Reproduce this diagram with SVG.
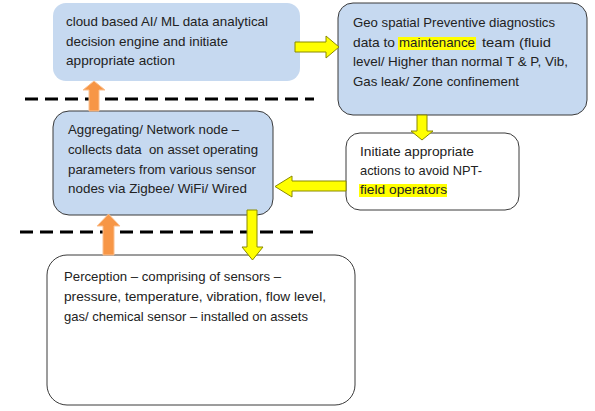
<svg xmlns="http://www.w3.org/2000/svg" width="595" height="411" viewBox="0 0 595 411">
<style>
text{font-family:"Liberation Sans",Arial,sans-serif;font-size:13px;fill:#222}
.blue{fill:#c6d9f0}
.bord{stroke:#3a3a3a;stroke-width:1}
.white{fill:#fff}
.dash{stroke:#000;stroke-width:3;stroke-dasharray:13 7;fill:none}
.ya{fill:#ffff00;stroke:#8a8a00;stroke-width:1}
.oa{fill:#f79646;stroke:#fbc08f;stroke-width:1}
.hl{fill:#ffff00}
</style>
<rect width="595" height="411" fill="#fff"/>
<g id="dividers">
<line class="dash" x1="25" y1="99" x2="314" y2="99"/>
<line class="dash" x1="20" y1="232" x2="313" y2="232"/>
</g>
<g id="cloud">
<rect class="blue" x="53" y="3" width="247" height="78" rx="13"/>
<text x="66" y="26" textLength="202" lengthAdjust="spacingAndGlyphs">cloud based AI/ ML data analytical</text>
<text x="66" y="46" textLength="162" lengthAdjust="spacingAndGlyphs">decision engine and initiate</text>
<text x="66" y="65" textLength="109" lengthAdjust="spacingAndGlyphs">appropriate action</text>
</g>
<g id="geo">
<rect class="blue bord" x="338" y="3" width="249" height="112" rx="15"/>
<rect class="hl" x="398" y="37" width="78" height="13"/>
<text x="353" y="27" textLength="202" lengthAdjust="spacingAndGlyphs">Geo spatial Preventive diagnostics</text>
<text y="47"><tspan x="353" textLength="42" lengthAdjust="spacingAndGlyphs">data to</tspan><tspan x="399" textLength="76" lengthAdjust="spacingAndGlyphs">maintenance</tspan><tspan x="482" textLength="69" lengthAdjust="spacingAndGlyphs">team (fluid</tspan></text>
<text x="353" y="66" textLength="215" lengthAdjust="spacingAndGlyphs">level/ Higher than normal T &amp; P, Vib,</text>
<text x="353" y="86" textLength="166" lengthAdjust="spacingAndGlyphs">Gas leak/ Zone confinement</text>
</g>
<g id="initiate">
<rect class="white bord" x="346" y="133" width="173" height="77" rx="14"/>
<rect class="hl" x="359" y="184" width="88" height="13"/>
<text x="360" y="156" textLength="114" lengthAdjust="spacingAndGlyphs">Initiate appropriate</text>
<text x="360" y="175" textLength="122" lengthAdjust="spacingAndGlyphs">actions to avoid NPT-</text>
<text x="360" y="194" textLength="87" lengthAdjust="spacingAndGlyphs">field operators</text>
</g>
<g id="aggregating">
<rect class="blue bord" x="53" y="111" width="220" height="104" rx="16"/>
<text x="68" y="134" textLength="171" lengthAdjust="spacingAndGlyphs">Aggregating/ Network node –</text>
<text x="68" y="154" textLength="190" lengthAdjust="spacingAndGlyphs" xml:space="preserve">collects data  on asset operating</text>
<text x="68" y="174" textLength="188" lengthAdjust="spacingAndGlyphs">parameters from various sensor</text>
<text x="68" y="193" textLength="179" lengthAdjust="spacingAndGlyphs">nodes via Zigbee/ WiFi/ Wired</text>
</g>
<g id="perception">
<rect class="white bord" x="47" y="255" width="308" height="150" rx="20"/>
<text x="64" y="281" textLength="217" lengthAdjust="spacingAndGlyphs">Perception – comprising of sensors –</text>
<text x="64" y="301" textLength="262" lengthAdjust="spacingAndGlyphs">pressure, temperature, vibration, flow level,</text>
<text x="64" y="321" textLength="244" lengthAdjust="spacingAndGlyphs">gas/ chemical sensor – installed on assets</text>
</g>
<g id="connectors">
<polygon class="ya" points="295,42 326,42 326,36 339,47 326,58 326,52 295,52"/>
<polygon class="ya" points="417,115 427,115 427,131 433,131 422,140 411,131 417,131"/>
<polygon class="ya" points="346,181 292,181 292,176 275,186.5 292,197 292,191 346,191"/>
<polygon class="ya" points="247,210 257,210 257,247 263,247 252.5,260 242,247 247,247"/>
<polygon class="oa" points="89,111 89,90 83,90 94,81 105,90 99,90 99,111"/>
<polygon class="oa" points="103,255 103,226 97,226 108.5,214 120,226 114,226 114,255"/>
</g>
</svg>
